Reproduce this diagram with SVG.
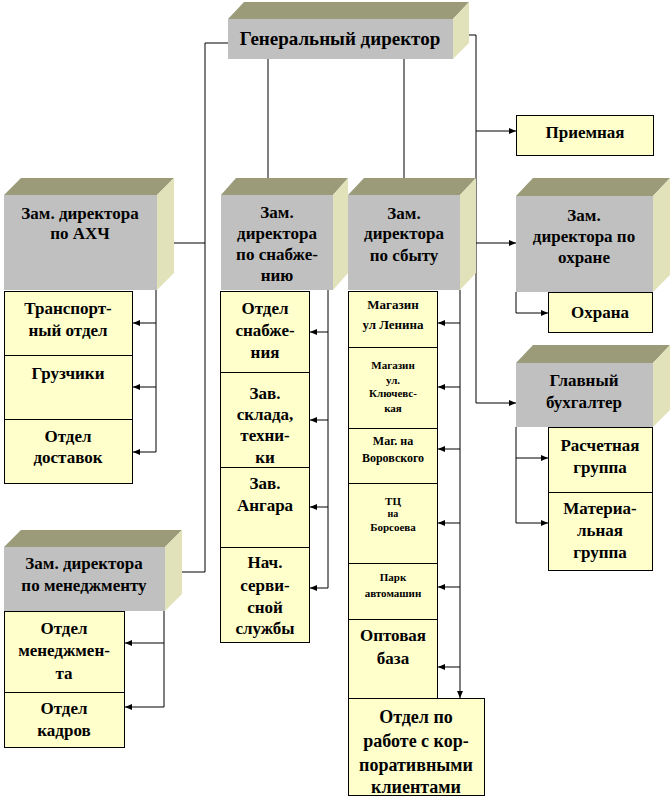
<svg xmlns="http://www.w3.org/2000/svg" width="671" height="799" viewBox="0 0 671 799">
<style>
.front{fill:#C0C0C0}
.top{fill:#9B9B79}
.side{fill:#E1E1BA}
.box{fill:#FFFFCC;stroke:#000;stroke-width:1}
.t{font-family:'Liberation Serif','DejaVu Serif','Times New Roman',serif;font-weight:bold;font-size:17px;text-anchor:middle;fill:#000}
.conn{fill:none;stroke:#000;stroke-width:1}
</style>
<defs>
<marker id="ar" markerUnits="userSpaceOnUse" markerWidth="8" markerHeight="7" refX="7" refY="3" orient="auto">
<path d="M0,0 L7,3 L0,6 z" fill="#000"/>
</marker>
</defs>
<rect width="671" height="799" fill="#fff"/>

<g id="connectors" class="conn">
<path d="M228,43 H205 V572 H166" marker-end="url(#ar)"/>
<path d="M205,243 H158" marker-end="url(#ar)"/>
<path d="M268,59 V193" marker-end="url(#ar)"/>
<path d="M404,59 V193" marker-end="url(#ar)"/>
<path d="M453,35 H476 V403 H516" marker-end="url(#ar)"/>
<path d="M476,131 H516" marker-end="url(#ar)"/>
<path d="M476,243 H516" marker-end="url(#ar)"/>
<path d="M156,290 V452"/>
<path d="M156,323 H133" marker-end="url(#ar)"/>
<path d="M156,387 H133" marker-end="url(#ar)"/>
<path d="M156,452 H133" marker-end="url(#ar)"/>
<path d="M328,290 V588"/>
<path d="M328,332 H310" marker-end="url(#ar)"/>
<path d="M328,420 H310" marker-end="url(#ar)"/>
<path d="M328,507 H310" marker-end="url(#ar)"/>
<path d="M328,588 H310" marker-end="url(#ar)"/>
<path d="M460,290 V698" marker-end="url(#ar)"/>
<path d="M460,323 H438" marker-end="url(#ar)"/>
<path d="M460,387 H438" marker-end="url(#ar)"/>
<path d="M460,449 H438" marker-end="url(#ar)"/>
<path d="M460,523 H438" marker-end="url(#ar)"/>
<path d="M460,587 H438" marker-end="url(#ar)"/>
<path d="M460,667 H438" marker-end="url(#ar)"/>
<path d="M164,611 V707"/>
<path d="M164,643 H125" marker-end="url(#ar)"/>
<path d="M164,707 H125" marker-end="url(#ar)"/>
<path d="M516,292 V313 H548" marker-end="url(#ar)"/>
<path d="M516,427 V523"/>
<path d="M516,458 H548" marker-end="url(#ar)"/>
<path d="M516,523 H548" marker-end="url(#ar)"/>
</g>

<g id="gen-director">
<polygon class="top" points="228,19 244,2 469,2 453,19"/>
<polygon class="side" points="453,19 469,2 469,43 453,59"/>
<rect class="front" x="228" y="19" width="225" height="40"/>
<text class="t" x="340" y="45" style="font-size:19px">Генеральный директор</text>
</g>

<g id="zam-ahch">
<polygon class="top" points="4,195 21,178 174,178 157,195"/>
<polygon class="side" points="157,195 174,178 174,273 157,290"/>
<rect class="front" x="4" y="195" width="153" height="95"/>
<text class="t" x="80" y="219">Зам. директора</text>
<text class="t" x="80" y="239">по АХЧ</text>
</g>

<g id="zam-snab">
<polygon class="top" points="221,195 236,178 348,178 333,195"/>
<polygon class="side" points="333,195 348,178 348,273 333,290"/>
<rect class="front" x="221" y="195" width="112" height="95"/>
<text class="t" x="277" y="218">Зам.</text>
<text class="t" x="277" y="239">директора</text>
<text class="t" x="277" y="260">по снабже-</text>
<text class="t" x="277" y="281">нию</text>
</g>

<g id="zam-sbyt">
<polygon class="top" points="348,195 364,178 476,178 460,195"/>
<polygon class="side" points="460,195 476,178 476,273 460,290"/>
<rect class="front" x="348" y="195" width="112" height="95"/>
<text class="t" x="404" y="219">Зам.</text>
<text class="t" x="404" y="239">директора</text>
<text class="t" x="404" y="261">по сбыту</text>
</g>

<g id="priemnaya">
<rect class="box" x="516.5" y="115.5" width="137" height="40"/>
<text class="t" x="585" y="138">Приемная</text>
</g>

<g id="zam-ohrana">
<polygon class="top" points="516,196 533,178 670,178 653,196"/>
<polygon class="side" points="653,196 670,178 670,275 653,292"/>
<rect class="front" x="516" y="196" width="137" height="96"/>
<text class="t" x="584" y="221">Зам.</text>
<text class="t" x="584" y="242">директора по</text>
<text class="t" x="584" y="263">охране</text>
</g>

<g id="ohrana">
<rect class="box" x="548.5" y="292.5" width="104" height="40"/>
<text class="t" x="600" y="318">Охрана</text>
</g>

<g id="glav-buh">
<polygon class="top" points="516,363 533,345 670,345 653,363"/>
<polygon class="side" points="653,363 670,345 670,410 653,427"/>
<rect class="front" x="516" y="363" width="137" height="64"/>
<text class="t" x="584" y="386">Главный</text>
<text class="t" x="584" y="408">бухгалтер</text>
</g>

<g id="raschet">
<rect class="box" x="548.5" y="427.5" width="104" height="65"/>
<text class="t" x="600" y="451">Расчетная</text>
<text class="t" x="600" y="473">группа</text>
</g>

<g id="material">
<rect class="box" x="548.5" y="492.5" width="104" height="78"/>
<text class="t" x="600" y="514">Материа-</text>
<text class="t" x="600" y="536">льная</text>
<text class="t" x="600" y="558">группа</text>
</g>

<g id="transport">
<rect class="box" x="4.5" y="291.5" width="128" height="64"/>
<text class="t" x="68" y="314">Транспорт-</text>
<text class="t" x="68" y="336">ный отдел</text>
</g>
<g id="gruzchiki">
<rect class="box" x="4.5" y="355.5" width="128" height="64"/>
<text class="t" x="68" y="379">Грузчики</text>
</g>
<g id="dostavka">
<rect class="box" x="4.5" y="419.5" width="128" height="64"/>
<text class="t" x="68" y="442">Отдел</text>
<text class="t" x="68" y="463">доставок</text>
</g>

<g id="zam-menedzh">
<polygon class="top" points="4,547 21,530 182,530 165,547"/>
<polygon class="side" points="165,547 182,530 182,594 165,611"/>
<rect class="front" x="4" y="547" width="161" height="64"/>
<text class="t" x="84" y="569">Зам. директора</text>
<text class="t" x="84" y="591">по менеджменту</text>
</g>
<g id="otdel-menedzh">
<rect class="box" x="4.5" y="611.5" width="120" height="81"/>
<text class="t" x="64" y="634">Отдел</text>
<text class="t" x="64" y="656">менеджмен-</text>
<text class="t" x="64" y="679">та</text>
</g>
<g id="kadry">
<rect class="box" x="4.5" y="692.5" width="120" height="55"/>
<text class="t" x="64" y="714">Отдел</text>
<text class="t" x="64" y="736">кадров</text>
</g>

<g id="otdel-snab">
<rect class="box" x="220.5" y="291.5" width="89" height="81"/>
<text class="t" x="265" y="314">Отдел</text>
<text class="t" x="265" y="336">снабже-</text>
<text class="t" x="265" y="358">ния</text>
</g>
<g id="zav-sklad">
<rect class="box" x="220.5" y="372.5" width="89" height="95"/>
<text class="t" x="265" y="399">Зав.</text>
<text class="t" x="265" y="420">склада,</text>
<text class="t" x="265" y="441">техни-</text>
<text class="t" x="265" y="463">ки</text>
</g>
<g id="zav-angar">
<rect class="box" x="220.5" y="467.5" width="89" height="80"/>
<text class="t" x="265" y="489">Зав.</text>
<text class="t" x="265" y="511">Ангара</text>
</g>
<g id="nach-servis">
<rect class="box" x="220.5" y="547.5" width="89" height="95"/>
<text class="t" x="265" y="568">Нач.</text>
<text class="t" x="265" y="591">серви-</text>
<text class="t" x="265" y="613">сной</text>
<text class="t" x="265" y="634">службы</text>
</g>

<g id="mag-lenina">
<rect class="box" x="348.5" y="291.5" width="89" height="56"/>
<text class="t" x="393" y="309" style="font-size:13px">Магазин</text>
<text class="t" x="393" y="329" style="font-size:13px">ул Ленина</text>
</g>
<g id="mag-kluch">
<rect class="box" x="348.5" y="347.5" width="89" height="81"/>
<text class="t" x="393" y="369" style="font-size:11px">Магазин</text>
<text class="t" x="393" y="384" style="font-size:11px">ул.</text>
<text class="t" x="393" y="397" style="font-size:11px">Ключевс-</text>
<text class="t" x="393" y="412" style="font-size:11px">кая</text>
</g>
<g id="mag-vorov">
<rect class="box" x="348.5" y="428.5" width="89" height="55"/>
<text class="t" x="393" y="445" style="font-size:12px">Маг. на</text>
<text class="t" x="393" y="462" style="font-size:12px">Воровского</text>
</g>
<g id="tc-borsoeva">
<rect class="box" x="348.5" y="483.5" width="89" height="80"/>
<text class="t" x="393" y="505" style="font-size:11px">ТЦ</text>
<text class="t" x="393" y="517" style="font-size:10px">на</text>
<text class="t" x="393" y="531" style="font-size:11px">Борсоева</text>
</g>
<g id="park">
<rect class="box" x="348.5" y="563.5" width="89" height="56"/>
<text class="t" x="393" y="581" style="font-size:11px">Парк</text>
<text class="t" x="393" y="597" style="font-size:11px">автомашин</text>
</g>
<g id="optovaya">
<rect class="box" x="348.5" y="619.5" width="89" height="79"/>
<text class="t" x="393" y="641">Оптовая</text>
<text class="t" x="393" y="664">база</text>
</g>
<g id="korp">
<rect class="box" x="348.5" y="698.5" width="136" height="97"/>
<text class="t" x="416" y="723" style="font-size:18px">Отдел по</text>
<text class="t" x="416" y="747" style="font-size:18px">работе с кор-</text>
<text class="t" x="416" y="771" style="font-size:18px">поративными</text>
<text class="t" x="416" y="793" style="font-size:18px">клиентами</text>
</g>
</svg>
